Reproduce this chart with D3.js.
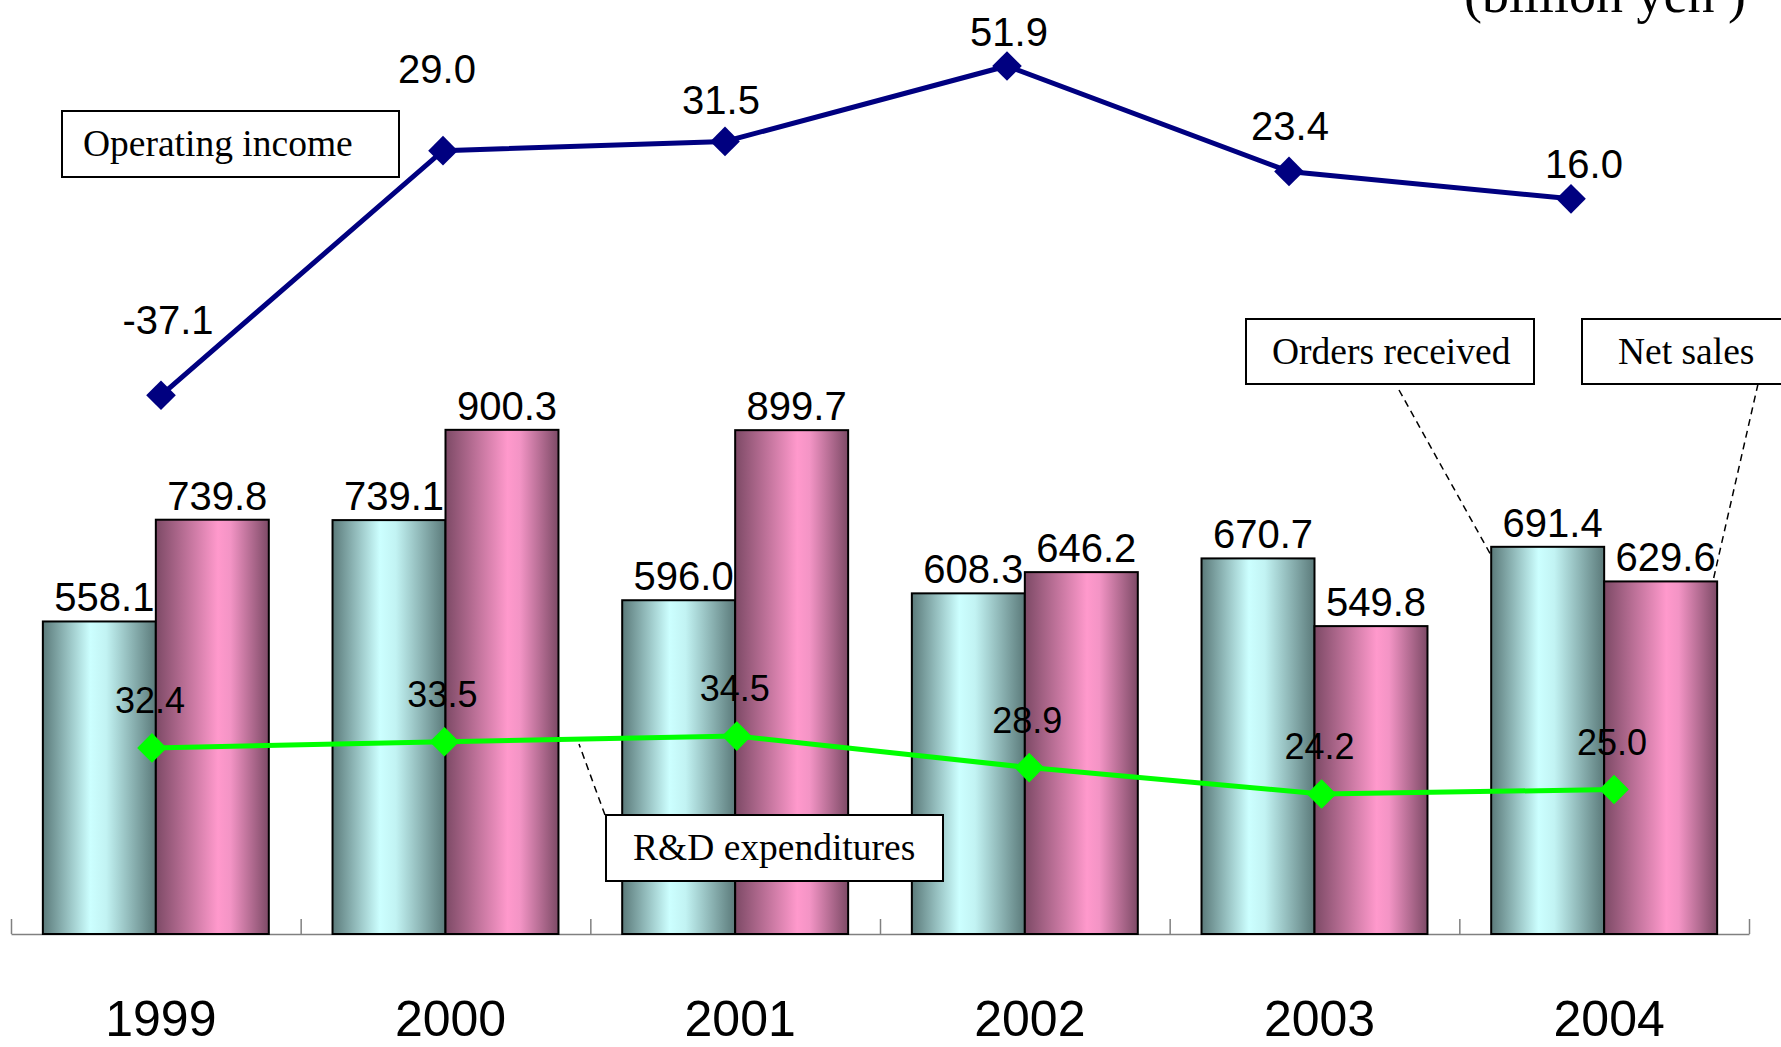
<!DOCTYPE html>
<html>
<head>
<meta charset="utf-8">
<script src="https://cdn.jsdelivr.net/npm/d3@7"></script>
<style>
  html, body { margin: 0; padding: 0; background: #fff; overflow: hidden; }
  svg { display: block; }
  .num { font-family: "Liberation Sans", Arial, sans-serif; fill: #000; }
  .note { font-family: "Liberation Serif", "Times New Roman", serif; fill: #000; }
</style>
</head>
<body>
<svg width="1781" height="1047"></svg>
<script>
// data (billion yen)
const years = ['1999', '2000', '2001', '2002', '2003', '2004']
const ordersReceived = [558.1, 739.1, 596.0, 608.3, 670.7, 691.4]
const netSales = [739.8, 900.3, 899.7, 646.2, 549.8, 629.6]
const operatingIncome = [-37.1, 29.0, 31.5, 51.9, 23.4, 16.0]
const rdExpenditures = [32.4, 33.5, 34.5, 28.9, 24.2, 25.0]

// hand placed label nudges for operating income (like the original)
const opLabelLift = [61, 68, 27, 20, 31, 21]
const opLabelShift = [7, -6, -4, 2, 1, 13]

const svg = d3.select('svg')
const baseY = 934

// gradients for the cylinder look
const defs = svg.append('defs')
function grad(id, stops){
    const g = defs.append('linearGradient').attr('id', id)
        .attr('x1', '0%').attr('x2', '100%').attr('y1', '0%').attr('y2', '0%')
    stops.forEach(s => g.append('stop').attr('offset', s[0]).attr('stop-color', s[1]))
}
grad('gOrders', [[0, '#5b7a7a'], [0.42, '#ccffff'], [0.56, '#c2f3f3'], [1, '#5b7a7a']])
grad('gSales', [[0, '#7d4a66'], [0.55, '#ff99cc'], [0.66, '#f394c5'], [1, '#7d4a66']])

const x0 = d3.scaleBand().domain(years).range([11, 1749]).padding(0)
const x1 = d3.scaleBand().domain(['orders', 'sales']).range([0, x0.bandwidth()])
    .paddingInner(0).paddingOuter(0.282)
const yBar = d3.scaleLinear().domain([0, 1000]).range([baseY, 374])
const xOp = d3.scalePoint().domain(years).range([161, 1571])
const yOp = d3.scaleLinear().domain([-60, 60]).range([480, 36])
const xRd = d3.scalePoint().domain(years).range([152, 1614])
const yRd = d3.scaleLinear().domain([0, 100]).range([930, 368])

// unit (cut by the top edge, as in the original)
svg.append('text').attr('class', 'note').attr('x', 1746).attr('y', 12)
    .attr('text-anchor', 'end').style('font-size', '54px').text('(billion yen )')

// axis line with ticks at band edges
const axisScale = d3.scaleLinear().domain([0, years.length]).range(x0.range())
const axis = svg.append('g').attr('transform', `translate(0,${baseY})`)
    .call(d3.axisBottom(axisScale).ticks(years.length).tickSize(-15).tickSizeOuter(0).tickFormat(''))
axis.select('.domain').attr('stroke', '#808080').attr('stroke-width', 1.5)
axis.selectAll('.tick line').attr('stroke', '#808080').attr('stroke-width', 1.5)

// year labels
const yearAxis = svg.append('g').attr('transform', `translate(5,${baseY})`)
    .call(d3.axisBottom(x0).tickSize(0).tickPadding(66))
yearAxis.select('.domain').remove()
yearAxis.selectAll('text').attr('class', 'num').style('font-size', '50px').attr('fill', '#000')

// bars
const rows = years.map((y, i) => ({year: y, vals: [
    {key: 'orders', v: ordersReceived[i]}, {key: 'sales', v: netSales[i]}]}))
const groups = svg.append('g').selectAll('g').data(rows).enter().append('g')
    .attr('transform', d => `translate(${x0(d.year)},0)`)
groups.selectAll('rect').data(d => d.vals).enter().append('rect')
    .attr('x', d => x1(d.key)).attr('width', x1.bandwidth())
    .attr('y', d => yBar(d.v)).attr('height', d => baseY - yBar(d.v))
    .attr('fill', d => d.key === 'orders' ? 'url(#gOrders)' : 'url(#gSales)')
    .attr('stroke', '#000').attr('stroke-width', 2)
groups.selectAll('text').data(d => d.vals).enter().append('text')
    .attr('class', 'num').style('font-size', '40px').attr('text-anchor', 'middle')
    .attr('x', d => x1(d.key) + x1.bandwidth() / 2 + 5)
    .attr('y', d => yBar(d.v) - 10)
    .text(d => d.v.toFixed(1))

const diamond = d3.symbol(d3.symbolSquare, 440)

// leader lines
const leaders = [[605, 815, 579, 744], [1399, 390, 1492, 557], [1758, 384, 1713, 581]]
svg.append('g').selectAll('line').data(leaders).enter().append('line')
    .attr('x1', d => d[0]).attr('y1', d => d[1]).attr('x2', d => d[2]).attr('y2', d => d[3])
    .attr('stroke', '#000').attr('stroke-width', 1.5).attr('stroke-dasharray', '7,5')

// R&D line
svg.append('path').datum(rdExpenditures)
    .attr('d', d3.line().x((d, i) => xRd(years[i])).y(d => yRd(d)))
    .attr('fill', 'none').attr('stroke', '#00ff00').attr('stroke-width', 5)
svg.append('g').selectAll('path').data(rdExpenditures).enter().append('path')
    .attr('d', diamond).attr('fill', '#00ff00')
    .attr('transform', (d, i) => `translate(${xRd(years[i])},${yRd(d)}) rotate(45)`)
svg.append('g').selectAll('text').data(rdExpenditures).enter().append('text')
    .attr('class', 'num').style('font-size', '36px').attr('text-anchor', 'middle')
    .attr('x', (d, i) => xRd(years[i]) - 2).attr('y', d => yRd(d) - 35)
    .text(d => d.toFixed(1))

// operating income line
svg.append('path').datum(operatingIncome)
    .attr('d', d3.line().x((d, i) => xOp(years[i])).y(d => yOp(d)))
    .attr('fill', 'none').attr('stroke', '#000080').attr('stroke-width', 5)
svg.append('g').selectAll('path').data(operatingIncome).enter().append('path')
    .attr('d', diamond).attr('fill', '#000080')
    .attr('transform', (d, i) => `translate(${xOp(years[i])},${yOp(d)}) rotate(45)`)
svg.append('g').selectAll('text').data(operatingIncome).enter().append('text')
    .attr('class', 'num').style('font-size', '40px').attr('text-anchor', 'middle')
    .attr('x', (d, i) => xOp(years[i]) + opLabelShift[i])
    .attr('y', (d, i) => yOp(d) - opLabelLift[i])
    .text(d => d.toFixed(1))

// series name boxes
const boxes = [
    {text: 'Operating income', x: 62, y: 111, w: 337, h: 66, pad: 21},
    {text: 'R&D expenditures', x: 606, y: 815, w: 337, h: 66, pad: 27},
    {text: 'Orders received', x: 1246, y: 319, w: 288, h: 65, pad: 26},
    {text: 'Net sales', x: 1582, y: 319, w: 215, h: 65, pad: 36}
]
const bx = svg.append('g').selectAll('g').data(boxes).enter().append('g')
bx.append('rect').attr('x', d => d.x).attr('y', d => d.y).attr('width', d => d.w).attr('height', d => d.h)
    .attr('fill', '#fff').attr('stroke', '#000').attr('stroke-width', 2)
bx.append('text').attr('class', 'note').style('font-size', '37.5px')
    .attr('x', d => d.x + d.pad).attr('y', d => d.y + d.h / 2 + 12)
    .text(d => d.text)
</script>
</body>
</html>
